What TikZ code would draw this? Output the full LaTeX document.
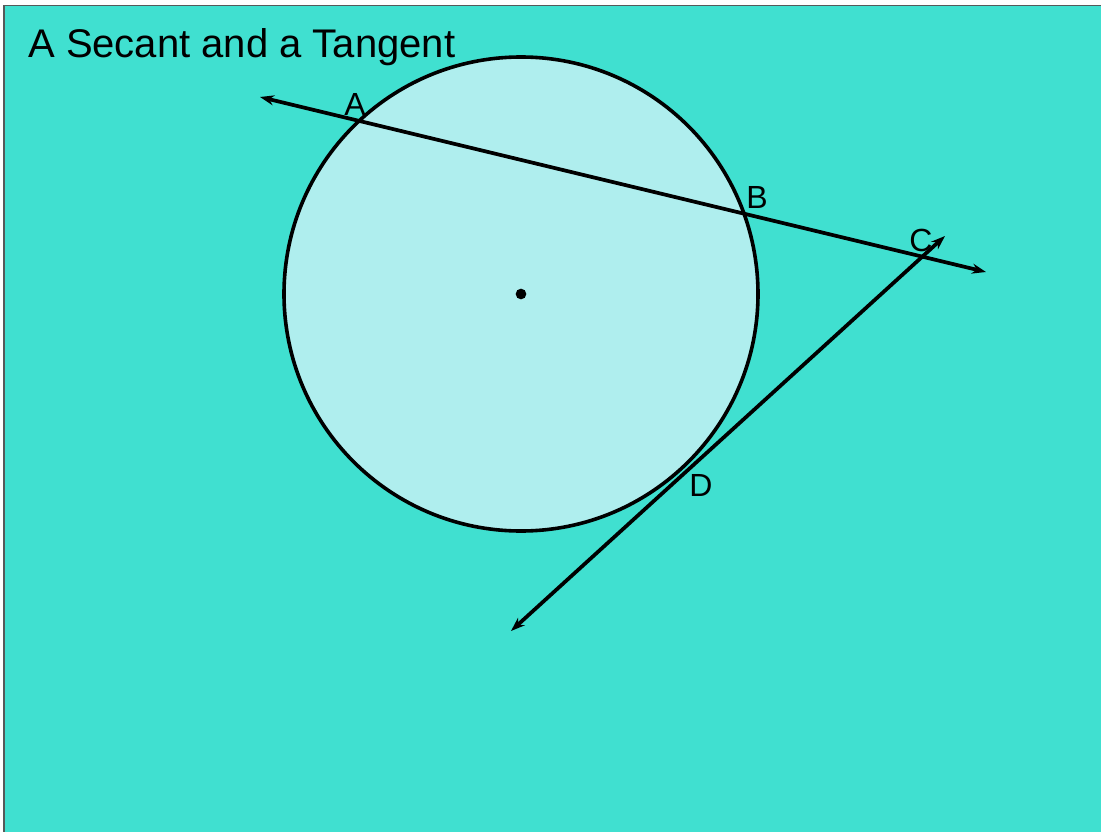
\documentclass[tikz,border=0pt]{standalone}
\usepackage{fontspec}
\setmainfont{Liberation Sans}
\usetikzlibrary{arrows.meta}
\definecolor{bgturq}{RGB}{64,224,208}
\definecolor{circfill}{RGB}{175,238,238}
\definecolor{frame}{RGB}{85,90,90}
\tikzset{
  ln/.style={line width=2.8pt, {Stealth[length=10.5pt,width=7.5pt]}-{Stealth[length=10.5pt,width=7.5pt]}},
  lbl/.style={font=\fontsize{24}{26}\selectfont, inner sep=0pt}
}
\begin{document}
\begin{tikzpicture}[x=0.75pt,y=-0.75pt]
\useasboundingbox (0,0) rectangle (1101,832);
\fill[white] (0,0) rectangle (1101,832);
\fill[bgturq] (4,5.5) rectangle (1101,832);
\draw[frame,line width=1.2pt] (4,832) -- (4,5.5) -- (1101,5.5);
\node[anchor=west,inner sep=0pt,font=\fontsize{30}{33}\selectfont] (title) at (28,47) {A Secant and a Tangent};
\coordinate (O) at (521,294);
\draw[line width=2.7pt, fill=circfill] (O) circle[radius=237*0.75pt];
\fill (O) circle[radius=4pt];
\coordinate (s1) at (260,97);
\coordinate (s2) at (986,272);
\coordinate (t1) at (511,631);
\coordinate (t2) at (945,236);
\draw[ln] (s1) -- (s2);
\draw[ln] (t1) -- (t2);
\node[lbl] (A) at (355,104) {A};
\node[lbl] (B) at (757,197) {B};
\node[lbl] (C) at (921,240) {C};
\node[lbl] (D) at (701,485) {D};
\end{tikzpicture}
\end{document}
